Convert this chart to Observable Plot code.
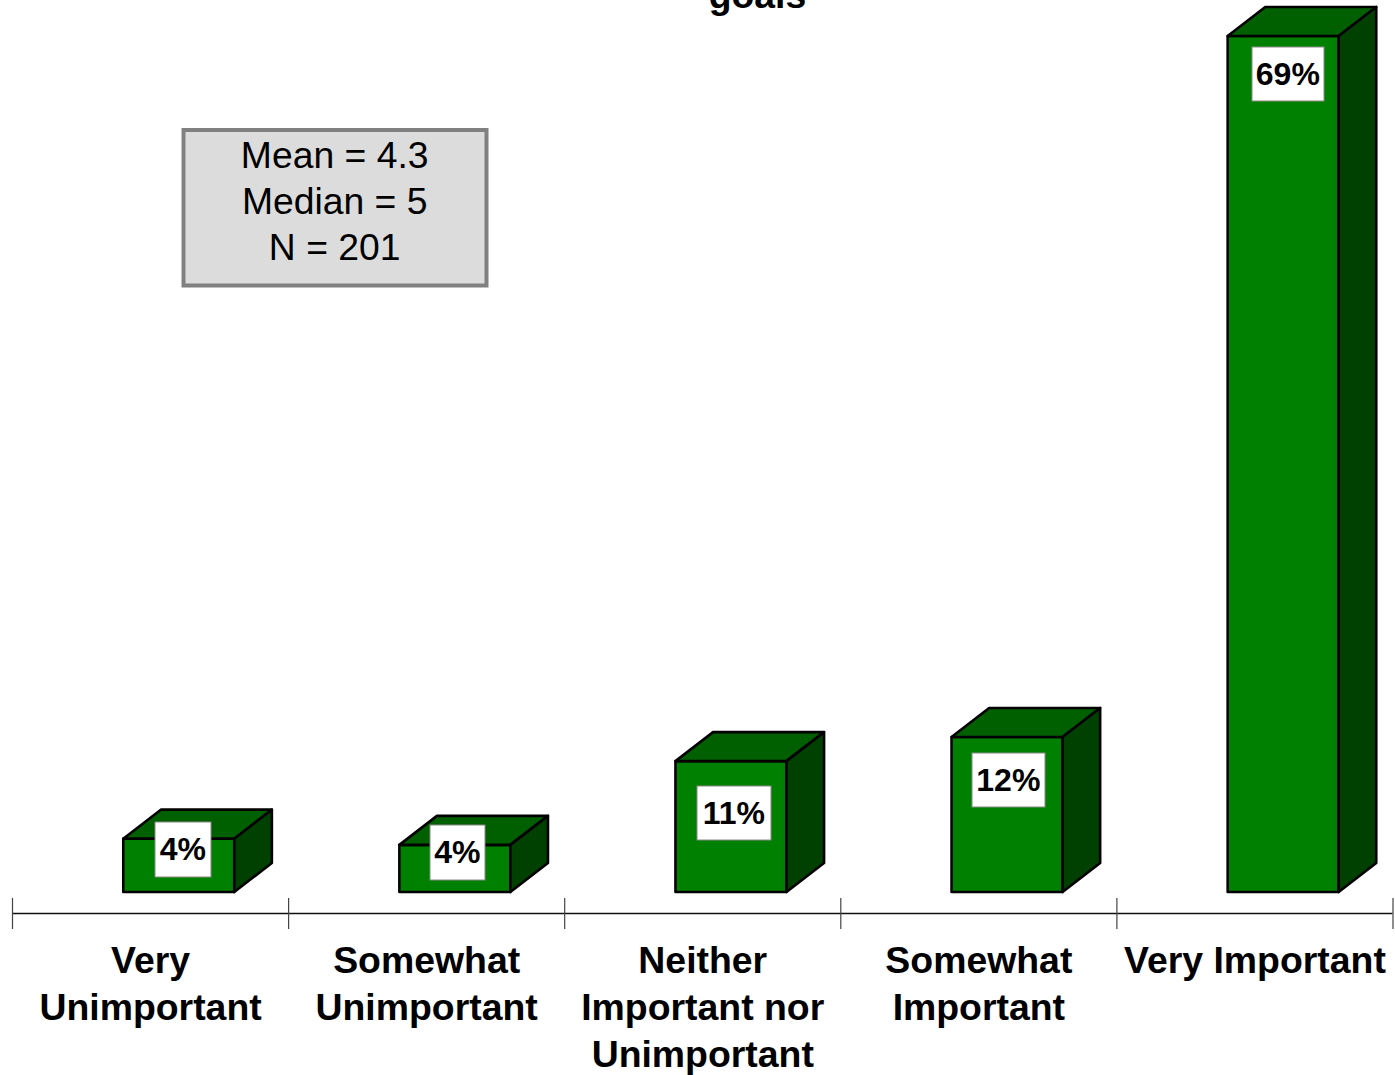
<!DOCTYPE html>
<html>
<head>
<meta charset="utf-8">
<script src="https://cdn.jsdelivr.net/npm/d3@7"></script>
<script src="https://cdn.jsdelivr.net/npm/@observablehq/plot@0.6"></script>
<style>
html,body{margin:0;padding:0;background:#fff;overflow:hidden}
svg{display:block}
</style>
</head>
<body>
<div id="chart"></div>
<script>
const categories = ["Very\nUnimportant", "Somewhat\nUnimportant", "Neither\nImportant nor\nUnimportant", "Somewhat\nImportant", "Very Important"];
const values = [4.3, 3.8, 10.55, 12.5, 69];
const percentLabels = ["4%", "4%", "11%", "12%", "69%"];
const statLines = ["Mean = 4.3", "Median = 5", "N = 201"];
const titleTail = "goals";

// Layout (pixel helpers mapped back into the chart's scales)
const X0 = 12, XW = 276.1, Y0 = 892, PX_PER_UNIT = 856 / 69;
const px = p => (p - X0) / XW;
const py = p => (Y0 - p) / PX_PER_UNIT;
const barLeft = 0.403, barWidth = 0.402, depthX = 37.6 / XW, depthY = 29 / PX_PER_UNIT;
const labelBoxes = [[155, 211, 822, 877], [430, 485, 825, 880], [697, 771, 786, 840], [972, 1045, 753, 807], [1252, 1324, 47, 101]];
const FONT = "Liberation Sans, Arial, Helvetica, sans-serif";

const bars = values.map((v, i) => ({i, v, a: i + barLeft, b: i + barLeft + barWidth}));
const topFace = bars.flatMap(d => [
  {i: d.i, x: d.a, y1: d.v, y2: d.v},
  {i: d.i, x: d.a + depthX, y1: d.v, y2: d.v + depthY},
  {i: d.i, x: d.b, y1: d.v, y2: d.v + depthY},
  {i: d.i, x: d.b + depthX, y1: d.v + depthY, y2: d.v + depthY}
]);
const sideFace = bars.flatMap(d => [
  {i: d.i, x: d.b, y1: 0, y2: d.v},
  {i: d.i, x: d.b + depthX, y1: depthY, y2: d.v + depthY}
]);
const labels = labelBoxes.map(([l, r, t, b], i) => ({l: px(l), r: px(r), t: py(t), b: py(b), text: percentLabels[i], cx: px((l + r) / 2 - 0.7), cy: py((t + b) / 2)}));
const faceOutline = {stroke: "#000", strokeWidth: 2.6, strokeLinejoin: "round"};

const chart = Plot.plot({
  width: 1395, height: 1075, margin: 0,
  x: {domain: [0, 5], range: [X0, X0 + 5 * XW], axis: null},
  y: {domain: [0, 69], range: [Y0, Y0 - 856], axis: null},
  style: {background: "#fff", fontFamily: FONT},
  marks: [
    Plot.text([titleTail], {x: () => px(757), y: () => py(-4), text: d => d, fontSize: 37.3, fontWeight: 700, fill: "#000", fontFamily: FONT}),
    Plot.rect([0], {x1: () => px(183.5), x2: () => px(486.5), y1: () => py(130), y2: () => py(285.5), fill: "#dcdcdc", stroke: "#808080", strokeWidth: 4}),
    Plot.text(statLines, {x: () => px(334.2), y: (d, i) => py(156 + 46 * i), text: d => d, fontSize: 37.3, fill: "#000", fontFamily: FONT}),
    Plot.rect(bars, {x1: "a", x2: "b", y1: 0, y2: "v", fill: "#008000", ...faceOutline}),
    Plot.areaY(topFace, {x: "x", y1: "y1", y2: "y2", z: "i", fill: "#006000", ...faceOutline}),
    Plot.areaY(sideFace, {x: "x", y1: "y1", y2: "y2", z: "i", fill: "#004000", ...faceOutline}),
    Plot.rect(labels, {x1: "l", x2: "r", y1: "t", y2: "b", fill: "#fff", stroke: "#888", strokeWidth: 1}),
    Plot.text(labels, {x: "cx", y: "cy", text: "text", fontSize: 32, fontWeight: 700, fill: "#000", fontFamily: FONT}),
    Plot.ruleY([py(913)], {x1: 0, x2: 5, stroke: "#111", strokeWidth: 1.3}),
    Plot.ruleX(d3.range(6), {x: d => d, y1: py(898), y2: py(929), stroke: "#444", strokeWidth: 1.2}),
    Plot.text(categories, {x: (d, i) => i + 0.5, y: () => py(960), text: d => d, lineAnchor: "top", dy: -21, lineHeight: 1.26, fontSize: 37.4, fontWeight: 700, fill: "#000", fontFamily: FONT})
  ]
});
document.getElementById("chart").append(chart);
</script>
</body>
</html>
